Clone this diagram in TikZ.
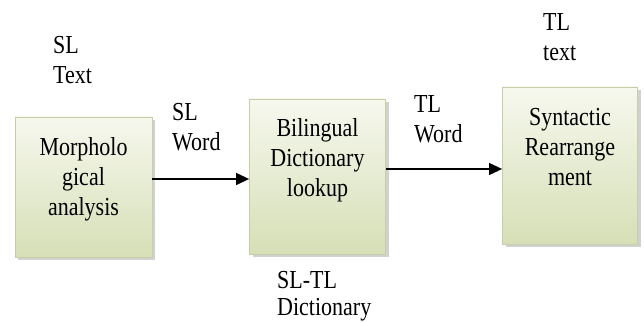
\documentclass[tikz,border=0pt]{standalone}
\usepackage{fontspec}
\setmainfont{Liberation Serif}
\usetikzlibrary{arrows.meta,shadows}
\definecolor{boxtop}{HTML}{F6F8EE}
\definecolor{boxbot}{HTML}{D6DFB6}
\definecolor{boxline}{HTML}{C6CFA8}
% text block: #1 = column alignment, #2 = baselineskip before vertical stretch, #3 = lines
\newcommand\tallstack[3]{\scalebox{1}[1.18]{\fontsize{22}{#2}\selectfont\begin{tabular}[t]{@{}#1@{}}#3\end{tabular}}}
\tikzset{
  procbox/.style={draw=boxline, line width=0.8pt, top color=boxtop, bottom color=boxbot,
    inner sep=0pt,
    drop shadow={shadow xshift=3pt, shadow yshift=-3pt, fill=black!30, opacity=0.6}},
  boxtext/.style={anchor=base, inner sep=0pt},
  lbl/.style={anchor=base west, inner sep=0pt},
  arr/.style={-{Triangle[length=13pt,width=12pt]}, line width=1.3pt, black}
}
\begin{document}
\begin{tikzpicture}[x=1pt,y=-1pt]
\useasboundingbox (0,0) rectangle (644,323);
% boxes
\node[procbox, minimum width=137pt, minimum height=140pt] (box1) at (83.5,187) {};
\node[procbox, minimum width=136pt, minimum height=155pt] (box2) at (317.5,176.5) {};
\node[procbox, minimum width=135pt, minimum height=157pt] (box3) at (570,165.5) {};
% box texts
\node[boxtext] (t1) at (83.5,156) {\tallstack{c}{25.4}{Morpholo\\gical\\analysis}};
\node[boxtext] (t2) at (317.5,137) {\tallstack{c}{25.4}{Bilingual\\Dictionary\\lookup}};
\node[boxtext] (t3) at (570,126) {\tallstack{c}{25.4}{Syntactic\\Rearrange\\ment}};
% labels
\node[lbl] (l1) at (53,54) {\tallstack{l}{24.6}{SL\\Text}};
\node[lbl] (l2) at (172,121) {\tallstack{l}{25.4}{SL\\Word}};
\node[lbl] (l3) at (414,113) {\tallstack{l}{25.4}{TL\\Word}};
\node[lbl] (l4) at (543,31) {\tallstack{l}{25.4}{TL\\text}};
\node[lbl] (l5) at (277,288) {\tallstack{l}{23.7}{SL-TL\\Dictionary}};
% arrows
\coordinate (a1) at (0,179);
\coordinate (a2) at (0,169);
\draw[arr] (box1.east |- a1) -- (box2.west |- a1);
\draw[arr] (box2.east |- a2) -- (box3.west |- a2);
\end{tikzpicture}
\end{document}
